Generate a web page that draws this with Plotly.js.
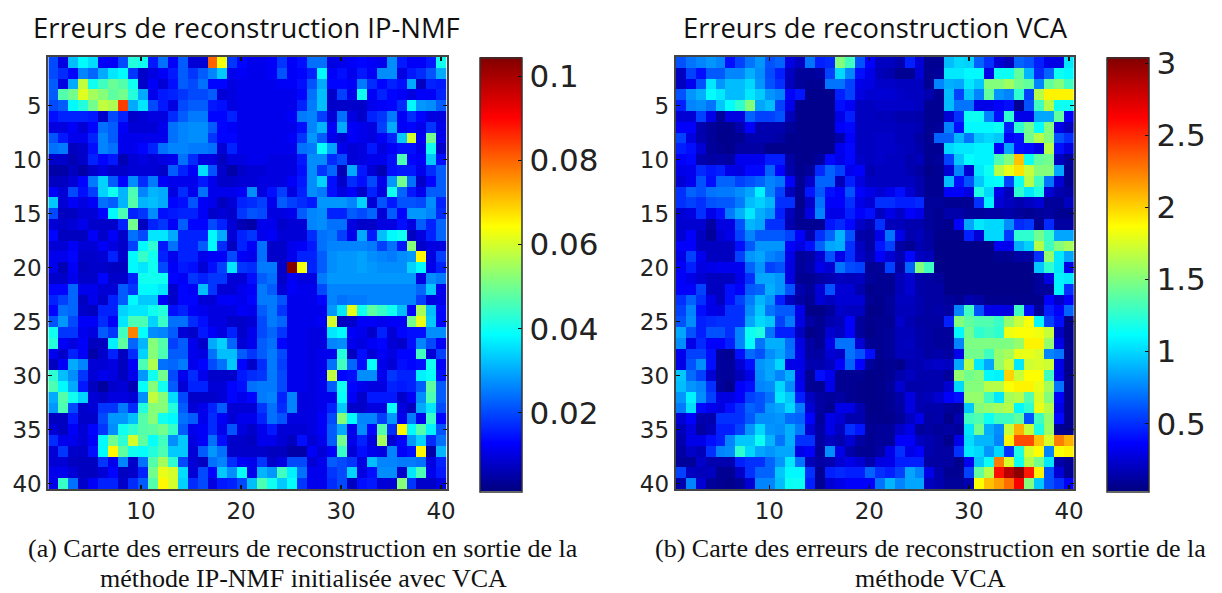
<!DOCTYPE html>
<html><head><meta charset="utf-8">
<script src="https://cdn.plot.ly/plotly-3.0.1.min.js"></script>
<style>html,body{margin:0;padding:0;background:#fff}#c{width:1222px;height:593px}</style>
</head><body><div id="c"></div>
<script>
// Reconstruction errors, IP-NMF map, in thousandths. Columns 1-20
const ipnmfLeft=[
[20,10,32,38,35,12,12,20,42,40,15,24,12,22,9,9,80,63,18,13],
[20,17,13,26,23,30,36,38,18,8,10,12,15,22,18,22,26,33,11,12],
[22,10,30,58,40,45,49,47,40,8,12,9,14,22,20,24,13,13,10,11],
[22,47,50,61,55,52,48,50,42,30,11,15,16,18,20,20,22,9,10,11],
[20,22,38,42,50,58,56,84,30,36,20,15,10,20,22,22,15,14,10,11],
[14,16,16,16,15,8,20,16,8,9,10,10,17,22,25,25,13,13,16,11],
[10,10,12,9,13,24,22,12,9,9,9,11,24,26,27,27,22,13,12,11],
[21,15,11,11,16,26,22,11,11,11,11,11,24,26,27,27,18,13,13,11],
[24,25,7,8,14,26,24,11,11,13,16,24,26,26,25,25,24,9,16,11],
[8,8,6,8,16,13,15,6,9,10,9,10,11,24,17,10,10,7,10,10],
[5,5,7,5,8,10,8,8,9,9,9,8,22,16,12,35,21,8,5,8],
[7,7,9,13,25,34,22,13,27,17,25,12,11,11,11,15,11,8,8,9],
[12,9,20,14,19,34,40,31,46,26,31,30,10,17,11,24,11,11,11,12],
[33,9,12,10,12,24,22,31,47,31,32,30,13,14,21,12,11,7,9,16],
[20,7,7,9,9,13,38,46,16,18,27,14,15,16,16,12,8,9,8,18],
[9,8,9,11,8,8,8,16,50,7,16,18,12,22,13,13,20,16,9,6],
[13,7,7,7,12,8,12,8,24,20,36,36,30,16,16,16,38,30,9,16],
[9,9,12,9,9,12,10,8,19,38,43,15,24,16,16,22,38,17,7,16],
[11,11,13,8,8,9,16,8,38,44,40,16,11,16,16,11,12,12,20,12],
[11,6,12,7,8,8,7,7,38,36,40,20,12,15,14,9,14,19,36,18],
[8,8,11,8,8,13,8,8,16,40,40,40,13,12,18,16,18,18,9,9],
[13,13,23,11,11,9,9,22,18,38,38,36,8,13,12,32,18,9,9,11],
[16,19,23,7,11,8,16,22,38,33,33,12,8,13,13,9,9,12,12,11],
[13,24,23,8,7,16,16,34,36,36,40,42,14,16,12,11,10,10,10,12],
[21,28,20,12,12,17,12,36,46,46,34,44,24,24,17,14,10,10,8,8],
[40,18,18,11,10,22,18,45,77,39,27,26,22,9,8,15,12,10,16,8],
[42,12,10,12,7,7,37,48,23,31,52,47,19,22,11,8,30,34,23,9],
[11,8,16,12,5,8,16,7,17,34,52,46,22,22,11,10,24,32,32,22],
[7,12,30,26,9,9,10,7,12,46,56,24,23,25,11,13,20,24,33,13],
[43,32,27,18,9,11,10,7,11,28,40,50,20,11,17,11,8,8,8,15],
[46,38,30,15,7,4,8,9,6,39,52,40,22,9,16,16,9,9,13,14],
[30,47,40,34,9,8,10,10,9,27,58,52,35,20,8,8,8,9,13,11],
[28,46,20,8,9,18,18,25,17,42,52,52,42,22,9,11,16,22,9,9],
[7,7,15,8,8,20,28,28,32,47,52,40,38,24,22,11,17,12,9,11],
[9,7,12,9,13,18,27,40,43,47,48,50,44,22,11,12,17,11,21,10],
[17,11,11,9,12,38,50,43,60,48,39,45,27,33,10,12,24,14,8,8],
[9,18,8,8,14,38,65,48,40,39,42,46,33,33,9,22,28,24,8,8],
[9,9,7,7,7,18,11,26,8,24,47,55,43,20,9,7,24,26,17,12],
[11,11,9,7,7,9,13,7,8,16,50,62,60,35,9,20,13,33,27,39],
[11,44,24,8,12,16,16,8,17,22,47,65,60,34,17,20,10,15,16,20]
];
// Columns 21-40
const ipnmfRight=[
[11,11,12,18,12,14,24,24,10,11,12,13,12,11,27,15,12,12,15,40],
[11,11,12,21,12,13,16,38,12,14,11,15,12,27,27,10,15,17,21,30],
[11,11,11,12,12,14,21,30,13,13,12,25,17,13,16,14,30,7,16,15],
[11,11,11,11,11,13,24,32,8,19,11,40,12,16,13,12,10,12,12,16],
[11,11,11,11,11,16,25,32,8,8,8,8,11,12,13,17,38,28,27,22],
[11,11,11,11,12,25,26,19,9,24,10,8,16,18,25,12,17,13,10,10],
[11,11,11,11,11,14,26,31,12,30,12,11,10,19,30,12,13,11,18,11],
[11,11,11,11,12,18,28,22,11,9,12,11,10,12,16,33,60,12,50,11],
[11,11,11,11,11,24,25,39,29,11,9,10,15,10,12,14,14,11,40,8],
[11,11,10,10,10,15,27,27,17,20,9,10,11,11,14,46,13,12,33,14],
[9,9,10,10,10,14,27,18,23,6,30,15,9,6,14,15,15,11,17,22],
[9,10,10,10,12,15,27,34,14,8,17,14,20,11,28,50,24,8,13,22],
[27,10,14,19,10,16,27,25,14,10,12,8,16,10,40,23,15,11,22,22],
[17,19,11,22,19,17,15,28,28,28,26,34,9,21,15,21,21,20,27,16],
[21,20,10,10,11,22,26,27,16,16,22,20,23,9,22,13,28,28,26,17],
[5,11,11,8,9,9,26,27,24,24,10,8,8,10,10,14,10,22,16,23],
[18,11,12,9,9,9,17,24,25,19,11,30,15,32,38,40,7,10,16,23],
[12,24,8,8,11,12,15,24,26,26,26,26,25,19,24,15,52,8,10,10],
[11,24,8,8,11,16,16,22,27,28,28,29,27,26,25,27,28,65,10,19],
[17,25,25,8,104,63,16,22,27,28,28,29,28,27,27,27,34,38,11,16],
[14,22,24,8,12,10,10,25,28,28,28,28,28,28,28,28,28,10,27,25],
[12,25,22,9,12,11,11,20,26,26,26,26,26,26,26,26,26,23,33,11],
[13,25,25,21,11,11,11,13,26,24,25,25,26,26,26,26,26,19,10,11],
[11,22,25,18,11,11,11,11,28,36,62,40,48,44,40,32,13,55,32,13],
[9,20,25,23,11,11,11,12,60,7,8,12,12,11,12,12,50,62,33,13],
[11,20,23,18,11,11,10,10,36,38,12,11,8,16,9,13,14,14,27,27],
[11,22,24,13,11,11,10,10,26,27,11,10,12,13,9,8,14,26,20,12],
[18,22,25,20,11,11,10,11,11,42,7,14,9,12,10,13,13,45,9,19],
[8,17,25,19,11,11,10,11,24,45,23,14,39,11,9,14,13,14,40,12],
[17,18,25,20,11,11,10,11,58,13,14,27,27,11,18,16,16,37,39,14],
[24,25,25,20,11,11,10,11,22,40,13,11,10,10,16,15,16,22,48,22],
[13,25,26,16,26,10,10,11,11,39,12,8,15,15,15,8,12,27,46,22],
[9,18,24,17,26,10,10,11,16,33,8,8,10,10,39,10,7,30,36,20],
[11,16,24,21,10,10,10,12,20,52,38,26,26,19,28,11,25,11,44,13],
[8,11,15,9,9,9,10,12,22,30,11,27,13,47,17,65,38,47,37,21],
[7,11,11,9,7,14,9,11,22,50,11,16,10,55,9,13,28,34,17,24],
[8,8,7,7,5,5,12,9,12,44,9,14,11,10,26,12,14,65,5,31],
[11,18,8,10,20,20,9,11,22,20,18,10,32,26,26,25,25,24,10,16],
[11,31,28,45,37,24,11,11,18,20,34,10,14,27,27,8,36,46,11,15],
[32,46,40,33,39,18,11,11,17,20,7,14,15,9,9,52,18,8,8,10]
];
// Reconstruction errors, VCA map, in hundredths. Columns 1-20
const vcaLeft=[
[60,70,75,80,75,40,55,70,80,60,65,28,20,70,45,48,150,130,60,36],
[20,55,40,62,62,76,76,88,78,58,45,20,10,10,12,55,100,76,40,30],
[20,32,60,105,80,92,92,100,80,60,50,18,10,8,8,70,70,55,30,28],
[60,80,88,112,105,92,92,105,96,80,75,35,42,6,6,6,45,55,28,24],
[45,75,78,70,95,112,125,150,85,92,55,30,6,6,6,6,40,34,20,20],
[25,25,55,30,10,28,28,65,55,55,60,18,6,6,6,6,30,45,20,20],
[35,35,15,10,7,7,15,35,15,15,15,10,6,6,6,6,35,38,20,20],
[55,28,15,10,6,7,8,15,15,15,12,7,6,6,6,6,14,35,20,20],
[45,40,25,10,8,6,12,12,12,6,6,6,6,6,6,6,32,38,20,20],
[35,38,15,12,14,12,32,32,32,44,44,12,6,6,11,38,30,38,22,20],
[30,32,48,42,45,30,28,38,38,65,36,14,7,10,48,65,55,32,35,16],
[25,32,60,40,65,65,55,60,65,75,70,35,8,22,65,65,18,45,28,20],
[50,65,60,70,72,72,78,85,108,75,55,18,8,42,62,40,35,60,35,30],
[50,55,50,60,62,62,72,92,98,90,50,50,6,22,70,35,35,50,30,25],
[25,28,50,30,40,72,88,105,88,80,45,18,8,28,75,30,30,45,35,40],
[24,24,24,12,28,28,60,90,85,50,50,15,8,8,8,42,48,38,22,16],
[25,35,20,10,25,30,55,75,62,62,62,55,35,15,50,65,90,60,14,12],
[35,35,20,20,20,20,40,62,80,80,80,35,28,40,65,85,88,50,20,12],
[30,55,32,20,20,20,55,80,85,75,70,30,10,12,25,60,30,50,22,15],
[35,45,28,30,32,32,32,65,80,55,60,28,10,14,30,25,70,58,55,8],
[35,30,25,20,20,20,30,50,85,85,80,28,8,8,12,16,20,18,20,10],
[35,35,55,20,20,40,35,62,65,88,80,60,15,10,25,60,25,25,15,6],
[50,65,50,30,20,40,55,72,90,80,45,20,12,8,25,20,25,25,25,8],
[55,75,40,30,28,50,50,78,95,70,62,62,30,5,5,10,22,20,20,5],
[60,78,45,48,50,50,50,85,100,95,55,72,28,12,8,15,18,36,10,6],
[85,60,45,60,60,50,75,115,120,70,45,45,20,5,8,24,20,35,10,5],
[78,30,48,35,35,45,75,112,70,88,88,68,28,12,8,30,70,70,25,8],
[32,55,55,40,10,8,40,68,60,78,85,70,30,12,12,25,22,70,60,40],
[30,60,78,40,10,10,25,40,80,85,100,30,30,15,15,20,35,65,36,10],
[95,68,55,25,10,10,18,30,78,85,75,88,30,8,40,32,8,8,8,5],
[92,80,75,50,10,6,35,40,75,78,100,78,32,8,8,30,8,8,6,5],
[80,108,78,55,28,28,35,55,60,70,105,95,45,20,12,10,12,8,6,5],
[72,102,38,32,28,40,50,65,60,80,85,100,72,25,12,8,30,30,16,5],
[25,35,15,15,50,50,50,62,78,78,80,68,65,36,10,30,25,15,15,6],
[18,28,12,18,45,45,55,80,100,80,78,88,72,25,12,30,20,50,42,8],
[15,30,30,40,45,75,95,95,115,90,70,88,50,50,12,20,15,25,12,8],
[12,22,18,50,75,78,125,100,85,80,85,85,30,35,10,78,30,14,8,8],
[10,10,22,15,15,15,45,50,50,65,80,105,70,18,12,15,25,30,25,15],
[55,20,18,20,8,8,22,50,65,65,95,110,110,50,8,45,48,45,45,65],
[15,75,25,10,8,6,10,25,75,75,92,115,115,45,8,25,30,35,35,35]
];
// Columns 21-40
const vcaRight=[
[20,20,15,45,25,8,8,92,100,98,65,50,25,18,65,60,45,30,28,105],
[18,15,8,8,25,8,10,105,105,110,110,30,115,115,140,90,48,65,115,110],
[22,22,20,20,20,8,75,88,85,105,95,150,150,158,145,140,75,140,150,130],
[25,25,22,20,20,15,8,92,55,95,75,140,80,75,125,55,165,190,190,190],
[22,22,22,22,20,8,8,92,70,70,30,30,35,40,8,60,130,165,115,115],
[18,18,15,15,14,8,8,25,50,115,115,75,40,125,30,30,85,85,140,35],
[20,20,18,18,16,8,10,75,40,110,110,110,115,45,125,145,112,150,30,20],
[22,22,18,18,12,8,65,65,90,70,95,100,95,35,40,145,165,150,60,50],
[22,22,20,18,14,8,8,100,105,105,108,108,35,85,40,38,30,165,40,28],
[22,20,20,15,18,8,10,55,95,112,108,108,135,150,205,115,140,145,20,10],
[20,20,20,16,12,6,8,25,75,25,105,115,165,180,195,170,150,150,85,8],
[20,20,20,20,15,8,8,92,40,60,95,110,112,55,115,165,130,70,25,8],
[25,30,40,25,15,8,8,35,35,28,120,100,30,18,125,105,120,25,15,12],
[50,50,45,45,48,10,10,8,8,8,50,108,25,20,15,20,25,10,10,20],
[20,30,22,35,30,10,8,14,14,10,10,12,12,14,10,8,10,12,8,8],
[50,18,18,15,15,10,8,6,35,85,105,100,100,78,48,52,8,48,12,12],
[30,70,30,15,18,12,6,6,6,45,25,100,100,52,125,125,145,128,85,85],
[42,55,12,8,16,12,5,5,5,5,5,5,32,32,88,98,165,130,150,160],
[35,25,16,38,20,18,5,5,5,5,5,5,8,8,12,12,50,155,105,85],
[10,55,12,65,150,130,5,5,5,5,5,5,5,5,5,5,95,125,105,30],
[8,8,18,24,14,12,10,5,5,5,5,5,5,5,5,5,10,28,108,105],
[8,8,18,24,14,12,12,5,5,5,5,5,5,5,5,5,10,10,108,50],
[7,10,20,20,15,12,12,10,8,15,12,7,7,7,6,6,6,35,22,35],
[6,10,18,18,15,12,14,12,75,130,60,30,30,28,130,40,10,45,35,65],
[8,8,22,16,12,12,12,45,150,140,135,135,128,155,170,185,110,55,40,6],
[8,10,18,18,14,12,10,10,110,145,125,130,125,182,185,185,182,170,20,6],
[8,10,18,20,14,12,10,10,75,148,148,148,148,148,155,190,190,155,30,6],
[8,10,18,18,16,12,14,12,30,145,145,130,155,160,180,180,175,75,70,6],
[6,8,6,16,16,20,22,20,85,165,105,85,155,172,105,172,175,172,30,6],
[6,8,15,20,15,15,15,10,155,145,150,110,108,200,170,187,187,130,30,6],
[6,10,24,14,14,15,15,24,100,150,150,165,165,185,190,190,180,160,70,6],
[6,8,14,28,16,18,24,35,40,155,155,130,105,160,165,135,175,150,35,6],
[6,8,12,28,16,14,14,10,8,95,150,155,160,165,110,125,180,165,30,6],
[6,6,10,20,30,12,14,6,15,130,135,115,130,130,140,60,130,155,38,6],
[10,10,22,30,10,12,10,12,10,105,145,88,78,170,210,170,120,158,8,6],
[10,10,35,35,20,16,12,6,30,102,90,90,75,190,240,240,205,175,225,210],
[12,30,50,30,35,15,12,12,50,105,100,80,100,50,120,175,187,75,185,190],
[28,30,45,45,45,12,12,12,6,32,95,115,225,175,115,165,145,105,14,8],
[50,45,55,85,75,30,15,8,8,55,140,165,258,285,300,255,190,60,25,8],
[70,90,75,85,85,20,15,10,10,15,187,205,215,230,265,150,95,60,50,35]
];
const cols=Array.from({length:40},(_,i)=>i+1);
const ipnmfZ=ipnmfLeft.map((r,i)=>r.concat(ipnmfRight[i]).map(v=>v/1000));
const vcaZ=vcaLeft.map((r,i)=>r.concat(vcaRight[i]).map(v=>v/100));
const yTicks=[5,10,15,20,25,30,35,40];
const xTickLabels=['10','20','30','40'];
const ipnmfXTicks=[9.8,19.85,29.9,39.93];
const vcaXTicks=[9.9,19.95,29.95,40];
const ipnmfBarTicks=[0.02,0.04,0.06,0.08,0.1];
const ipnmfBarLabels=['0.02','0.04','0.06','0.08','0.1'];
const vcaBarTicks=[0.5,1,1.5,2,2.5,3];
const vcaBarLabels=['0.5','1','1.5','2','2.5','3'];
const ipnmfRange=[0.0013,0.1045];
const vcaRange=[0.03,3.04];
const jet=[[0,'rgb(0,0,128)'],[0.11,'rgb(0,0,255)'],[0.36,'rgb(0,255,255)'],[0.61,'rgb(255,255,0)'],[0.86,'rgb(255,0,0)'],[1,'rgb(128,0,0)']];
const W=1222,H=593;
const px=v=>v/W, py=v=>1-v/H;
const ink='#222';
const barTop=57.5,barBottom=491;
function bar(xLeft,tv,tt){return {x:px(xLeft),xanchor:'left',y:py(barTop),yanchor:'top',len:(barBottom-barTop)/H,lenmode:'fraction',
 thickness:42,thicknessmode:'pixels',xpad:0,ypad:0,tickmode:'array',tickvals:tv,ticktext:tt,ticks:'inside',ticklen:4,tickcolor:'#111',
 outlinecolor:'#333',outlinewidth:1.5,tickfont:{family:'DejaVu Sans',size:31,color:ink}};}
// Left-edge tick marks of the colour bars, which Plotly only draws on the right
function barLeftTicks(xLeft,tv,range){return tv.map(v=>{
  const yy=barBottom-(v-range[0])/(range[1]-range[0])*(barBottom-barTop);
  return {type:'line',xref:'paper',yref:'paper',x0:px(xLeft),x1:px(xLeft+4),y0:py(yy),y1:py(yy),line:{color:'#111',width:1}};
});}
const traces=[
 {type:'heatmap',x:cols,y:cols,z:ipnmfZ,zmin:ipnmfRange[0],zmax:ipnmfRange[1],colorscale:jet,xaxis:'x',yaxis:'y',colorbar:bar(480,ipnmfBarTicks,ipnmfBarLabels)},
 {type:'heatmap',x:cols,y:cols,z:vcaZ,zmin:vcaRange[0],zmax:vcaRange[1],colorscale:jet,xaxis:'x2',yaxis:'y2',colorbar:bar(1107,vcaBarTicks,vcaBarLabels)}
];
function xa(d,tv,anchor){return {domain:d,range:[0.5,40.5],tickmode:'array',tickvals:tv,ticktext:xTickLabels,ticks:'inside',ticklen:4,tickcolor:'#111',tickwidth:1.5,
 showline:true,mirror:'ticks',linecolor:'#444',linewidth:2,showgrid:false,zeroline:false,anchor:anchor,tickfont:{family:'DejaVu Sans',size:23,color:ink}};}
function ya(d,anchor){return {domain:d,range:[40.5,0.5],tickmode:'array',tickvals:yTicks,ticktext:yTicks.map(String),ticks:'inside',ticklen:4,tickcolor:'#111',tickwidth:1.5,
 showline:true,mirror:'ticks',linecolor:'#444',linewidth:2,showgrid:false,zeroline:false,anchor:anchor,tickfont:{family:'DejaVu Sans',size:23,color:ink}};}
function note(text,xc,yc,family,size){return {text:text,xref:'paper',yref:'paper',x:px(xc),y:py(yc),xanchor:'center',yanchor:'middle',showarrow:false,font:{family:family,size:size,color:'#111'}};}
const serif='Liberation Serif',sans='Open Sans';
const layout={width:W,height:H,margin:{l:0,r:0,t:0,b:0,autoexpand:false},paper_bgcolor:'#fff',plot_bgcolor:'#fff',showlegend:false,
 xaxis:xa([px(48.3),px(446.7)],ipnmfXTicks,'y'),yaxis:ya([py(489),py(57)],'x'),
 xaxis2:xa([px(675.7),px(1074)],vcaXTicks,'y2'),yaxis2:ya([py(489),py(57)],'x2'),
 shapes:barLeftTicks(480,ipnmfBarTicks,ipnmfRange).concat(barLeftTicks(1107,vcaBarTicks,vcaRange)),
 annotations:[
  note('Erreurs de reconstruction IP-NMF',247,28,sans,27.4),
  note('Erreurs de reconstruction VCA',876,28,sans,27.3),
  note('(a) Carte des erreurs de reconstruction en sortie de la',303,548.5,serif,26),
  note('méthode IP-NMF initialisée avec VCA',303,578,serif,26),
  note('(b) Carte des erreurs de reconstruction en sortie de la',930,548.5,serif,26),
  note('méthode VCA',930,578,serif,26)
 ]};
Plotly.newPlot('c',traces,layout,{displayModeBar:false,staticPlot:true});
</script></body></html>
